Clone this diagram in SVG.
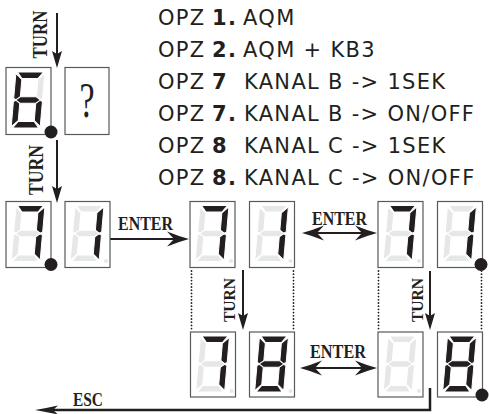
<svg xmlns="http://www.w3.org/2000/svg" xmlns:xlink="http://www.w3.org/1999/xlink" width="489" height="414" viewBox="0 0 489 414">
<style>
.box{fill:#fff;stroke:#58595b;stroke-width:1.2}
.on{fill:#231f20}
.off{fill:#e6e7e8}
.seg use{stroke:#fff;stroke-width:1;stroke-linejoin:miter}
.dp{fill:#e6e7e8}
.dot{fill:#231f20}
.opz{font-family:"DejaVu Sans",sans-serif;font-size:21px;fill:#231f20;letter-spacing:1.3px}
.b{font-weight:bold}
.lbl{font-family:"Liberation Serif",serif;font-weight:bold;fill:#231f20}
.ln{stroke:#231f20;stroke-width:2;fill:none}
.dots{stroke:#231f20;stroke-width:1.8;fill:none;stroke-dasharray:0 3.2;stroke-linecap:round}
.head{fill:#231f20}
</style>
<defs>
<polygon id="sa" points="1.5,0 27.5,0 22.5,6.5 6.5,6.5"/>
<polygon id="sb" points="29,1.5 29,26.5 26,28 22.5,25 22.5,7.5"/>
<polygon id="sc" points="29,29.5 29,54.5 22.5,48.5 22.5,31 26,28"/>
<polygon id="sd" points="1.5,56 27.5,56 22.5,49.5 6.5,49.5"/>
<polygon id="se" points="0,29.5 0,54.5 6.5,48.5 6.5,31 3,28"/>
<polygon id="sf" points="0,1.5 0,26.5 3,28 6.5,25 6.5,7.5"/>
<polygon id="sg" points="2,28 6.5,24.75 22.5,24.75 27,28 22.5,31.25 6.5,31.25"/>
<g id="d6" class="seg"><use href="#sa" class="on"/><use href="#sb" class="off"/><use href="#sc" class="on"/><use href="#sd" class="on"/><use href="#se" class="on"/><use href="#sf" class="on"/><use href="#sg" class="on"/></g>
<g id="d7" class="seg"><use href="#sa" class="on"/><use href="#sb" class="on"/><use href="#sc" class="on"/><use href="#sd" class="off"/><use href="#se" class="off"/><use href="#sf" class="off"/><use href="#sg" class="off"/></g>
<g id="d1" class="seg"><use href="#sa" class="off"/><use href="#sb" class="on"/><use href="#sc" class="on"/><use href="#sd" class="off"/><use href="#se" class="off"/><use href="#sf" class="off"/><use href="#sg" class="off"/></g>
<g id="d8" class="seg"><use href="#sa" class="on"/><use href="#sb" class="on"/><use href="#sc" class="on"/><use href="#sd" class="on"/><use href="#se" class="on"/><use href="#sf" class="on"/><use href="#sg" class="on"/></g>
<g id="doff" class="seg"><use href="#sa" class="off"/><use href="#sb" class="off"/><use href="#sc" class="off"/><use href="#sd" class="off"/><use href="#se" class="off"/><use href="#sf" class="off"/><use href="#sg" class="off"/></g>
<path id="th" d="M0,0 L-17,-5 L-14,0 L-17,5 Z"/>
<path id="eh" d="M0,0 Q-11,-3 -22,-7.5 L-15,0 L-22,7.5 Q-11,3 0,0 Z"/>
<path id="esch" d="M0,0 Q-12,-2 -23,-4.5 L-18,0 L-23,4.5 Q-12,2 0,0 Z"/>
</defs>

<g id="legend">
<text class="opz" y="25"><tspan x="158">OPZ</tspan><tspan x="212" class="b">1.</tspan><tspan x="243">AQM</tspan></text>
<text class="opz" y="57"><tspan x="158">OPZ</tspan><tspan x="212" class="b">2.</tspan><tspan x="243">AQM + KB3</tspan></text>
<text class="opz" y="89"><tspan x="158">OPZ</tspan><tspan x="212" class="b">7</tspan><tspan x="244">KANAL B -&gt; 1SEK</tspan></text>
<text class="opz" y="121"><tspan x="158">OPZ</tspan><tspan x="212" class="b">7.</tspan><tspan x="244">KANAL B -&gt; ON/OFF</tspan></text>
<text class="opz" y="153"><tspan x="158">OPZ</tspan><tspan x="212" class="b">8</tspan><tspan x="244">KANAL C -&gt; 1SEK</tspan></text>
<text class="opz" y="185"><tspan x="158">OPZ</tspan><tspan x="212" class="b">8.</tspan><tspan x="244">KANAL C -&gt; ON/OFF</tspan></text>
</g>

<g id="connectors">
<line class="ln" x1="57" y1="13" x2="57" y2="54"/>
<use href="#th" class="head" transform="translate(57,68) rotate(90)"/>
<line class="ln" x1="57" y1="140" x2="57" y2="189"/>
<use href="#th" class="head" transform="translate(57,203) rotate(90)"/>
<line class="ln" x1="110" y1="239" x2="175" y2="239"/>
<use href="#eh" class="head" transform="translate(189,239)"/>
<line class="ln" x1="314" y1="233" x2="364" y2="233"/>
<use href="#eh" class="head" transform="translate(377,233)"/>
<use href="#eh" class="head" transform="translate(302,233) rotate(180)"/>
<line class="ln" x1="243" y1="270" x2="243" y2="316"/>
<use href="#th" class="head" transform="translate(243,330) rotate(90)"/>
<line class="ln" x1="430" y1="271" x2="430" y2="316"/>
<use href="#th" class="head" transform="translate(430,330) rotate(90)"/>
<line class="ln" x1="312" y1="368" x2="364" y2="368"/>
<use href="#eh" class="head" transform="translate(377,368)"/>
<use href="#eh" class="head" transform="translate(300,368) rotate(180)"/>
<polyline class="ln" style="stroke-width:2.5" points="430,388 430,410 50,410"/>
<use href="#esch" class="head" transform="translate(35,410) rotate(180)"/>
<line class="dots" x1="191.5" y1="271" x2="191.5" y2="330"/>
<line class="dots" x1="293.5" y1="271" x2="293.5" y2="330"/>
<line class="dots" x1="378.5" y1="271" x2="378.5" y2="330"/>
<line class="dots" x1="481.5" y1="271" x2="481.5" y2="330"/>
<text class="lbl" font-size="20" transform="translate(47,34.5) rotate(-90)" text-anchor="middle" textLength="48" lengthAdjust="spacingAndGlyphs">TURN</text>
<text class="lbl" font-size="20" transform="translate(43,170) rotate(-90)" text-anchor="middle" textLength="50" lengthAdjust="spacingAndGlyphs">TURN</text>
<text class="lbl" font-size="17.5" transform="translate(235,300) rotate(-90)" text-anchor="middle" textLength="44" lengthAdjust="spacingAndGlyphs">TURN</text>
<text class="lbl" font-size="17.5" transform="translate(423,300) rotate(-90)" text-anchor="middle" textLength="44" lengthAdjust="spacingAndGlyphs">TURN</text>
<text class="lbl" font-size="18" x="118" y="230" textLength="55" lengthAdjust="spacingAndGlyphs">ENTER</text>
<text class="lbl" font-size="18" x="312" y="225" textLength="55" lengthAdjust="spacingAndGlyphs">ENTER</text>
<text class="lbl" font-size="18" x="310" y="358" textLength="56" lengthAdjust="spacingAndGlyphs">ENTER</text>
<text class="lbl" font-size="19" x="73" y="406" textLength="30" lengthAdjust="spacingAndGlyphs">ESC</text>
</g>

<g id="n6"><rect class="box" x="6" y="67.5" width="45" height="67"/><use href="#d6" transform="translate(16,72) skewX(-5)"/><circle class="dot" cx="51" cy="132" r="6.5"/></g>
<g id="nq"><rect class="box" x="65" y="67.5" width="44" height="67"/><text class="lbl" style="font-weight:normal" font-size="50" text-anchor="middle" transform="translate(87,117) scale(0.68,1)">?</text></g>

<g id="r2a"><rect class="box" x="6" y="201.5" width="45" height="66"/><use href="#d7" transform="translate(16,205.5) skewX(-5)"/><circle class="dot" cx="51" cy="264.5" r="6.5"/></g>
<g id="r2b"><rect class="box" x="65" y="201.5" width="45" height="66"/><use href="#d1" transform="translate(75,205.5) skewX(-5)"/><circle class="dp" cx="106" cy="261" r="2"/></g>
<g id="r2c"><rect class="box" x="190" y="201.5" width="45" height="66"/><use href="#d7" transform="translate(200,205.5) skewX(-5)"/><circle class="dp" cx="231" cy="261" r="2"/></g>
<g id="r2d"><rect class="box" x="249.5" y="201.5" width="45" height="66"/><use href="#d1" transform="translate(259.5,205.5) skewX(-5)"/><circle class="dp" cx="290.5" cy="261" r="2"/></g>
<g id="r2e"><rect class="box" x="378" y="201.5" width="45" height="66"/><use href="#d7" transform="translate(388,205.5) skewX(-5)"/><circle class="dp" cx="419" cy="261" r="2"/></g>
<g id="r2f"><rect class="box" x="437.5" y="201.5" width="45" height="66"/><use href="#d1" transform="translate(447.5,205.5) skewX(-5)"/><circle class="dot" cx="481" cy="264.5" r="6.5"/></g>

<g id="r3a"><rect class="box" x="190.5" y="332" width="45" height="65"/><use href="#d7" transform="translate(200.5,336) skewX(-5)"/><circle class="dp" cx="231.5" cy="391" r="2"/></g>
<g id="r3b"><rect class="box" x="249.5" y="332" width="45" height="65"/><use href="#d8" transform="translate(259.5,336) skewX(-5)"/><circle class="dp" cx="290.5" cy="391" r="2"/></g>
<g id="r3c"><rect class="box" x="378" y="332" width="45" height="65"/><use href="#doff" transform="translate(388,336) skewX(-5)"/><circle class="dp" cx="419" cy="391" r="2"/></g>
<g id="r3d"><rect class="box" x="437.5" y="332" width="45" height="65"/><use href="#d8" transform="translate(447.5,336) skewX(-5)"/><circle class="dot" cx="482" cy="395" r="6.5"/></g>
</svg>
